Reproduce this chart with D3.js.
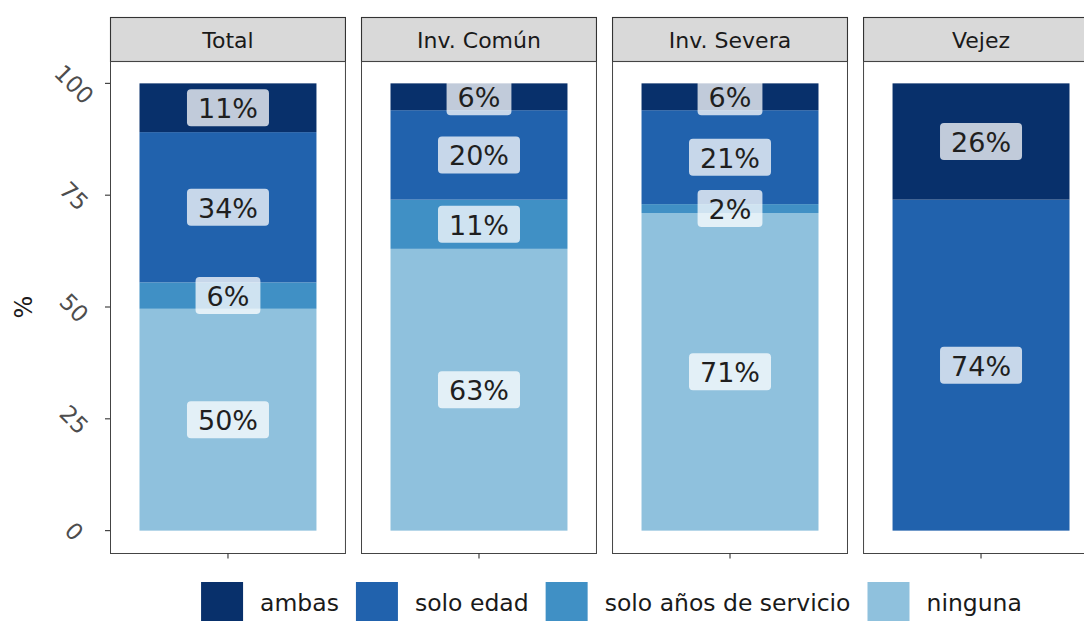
<!DOCTYPE html>
<html>
<head>
<meta charset="utf-8">
<script src="https://cdn.jsdelivr.net/npm/d3@7"></script>
<style>
  html, body { margin: 0; padding: 0; background: #fff; }
  svg { display: block; font-family: "DejaVu Sans", sans-serif; }
</style>
</head>
<body>
<svg id="chart" width="1084" height="621"></svg>
<script>
// ---- data ----
const facets = ["Total", "Inv. Común", "Inv. Severa", "Vejez"];
const stackOrder = ["ninguna", "solo años de servicio", "solo edad", "ambas"]; // bottom -> top
const legendOrder = ["ambas", "solo edad", "solo años de servicio", "ninguna"];
const ninguna       = [49.6, 63, 71, 0];
const soloAnios     = [5.9, 11, 2, 0];
const soloEdad      = [33.6, 20, 21, 74];
const ambas         = [10.9, 6, 6, 26];
const yTicks = [0, 25, 50, 75, 100];
const colors = ["#08306B", "#2162AD", "#4090C5", "#8FC1DD"]; // legend order

// ---- build table ----
const seriesByName = {
  "ninguna": ninguna,
  "solo años de servicio": soloAnios,
  "solo edad": soloEdad,
  "ambas": ambas
};
const rows = facets.map((f, i) => {
  const r = { facet: f };
  stackOrder.forEach(k => r[k] = seriesByName[k][i]);
  return r;
});
const stacked = d3.stack().keys(stackOrder)(rows);

const color = d3.scaleOrdinal().domain(legendOrder).range(colors);

const svg = d3.select("#chart");

// layout
const panelTop = 61, panelBottom = 553, stripTop = 17;
const fx = d3.scaleBand().domain(facets).range([110, 1099]).paddingInner(0.06);
const xb = d3.scaleBand().domain(["x"]).range([0, fx.bandwidth()]).paddingInner(0).paddingOuter(1/6);
const y = d3.scaleLinear().domain([-5, 105]).range([panelBottom, panelTop]);

// panels
const panels = svg.selectAll("g.panel").data(facets).join("g")
  .attr("class", "panel")
  .attr("transform", d => `translate(${fx(d)},0)`);

// strips
panels.append("rect")
  .attr("x", 0.5).attr("y", stripTop + 0.5)
  .attr("width", fx.bandwidth() - 1).attr("height", panelTop - stripTop)
  .attr("fill", "#D9D9D9").attr("stroke", "#333").attr("stroke-width", 1.1);
panels.append("text")
  .attr("x", fx.bandwidth() / 2).attr("y", (stripTop + panelTop) / 2 + 1)
  .attr("text-anchor", "middle").attr("dominant-baseline", "central")
  .attr("font-size", 22).attr("fill", "#1a1a1a")
  .text(d => d);

// bars
stacked.forEach(layer => {
  const key = layer.key;
  layer.forEach((seg, i) => {
    const v = seg[1] - seg[0];
    if (v <= 0) return;
    const g = panels.filter(d => d === facets[i]);
    g.append("rect")
      .attr("x", xb("x")).attr("width", xb.bandwidth())
      .attr("y", y(seg[1])).attr("height", y(seg[0]) - y(seg[1]))
      .attr("fill", color(key));
  });
});

// labels
stacked.forEach(layer => {
  layer.forEach((seg, i) => {
    const v = seg[1] - seg[0];
    if (v <= 0) return;
    const g = panels.filter(d => d === facets[i]);
    const cx = xb("x") + xb.bandwidth() / 2;
    const cy = y((seg[0] + seg[1]) / 2);
    const lg = g.append("g").attr("transform", `translate(${cx},${cy})`);
    const rect = lg.append("rect").attr("fill", "#fff").attr("fill-opacity", 0.75)
      .attr("rx", 4).attr("ry", 4);
    const t = lg.append("text").attr("text-anchor", "middle").attr("dominant-baseline", "central")
      .attr("font-size", 27).attr("fill", "#1f1f1f")
      .attr("y", 1)
      .text(Math.round(v) + "%");
    const w = t.node().getComputedTextLength();
    rect.attr("x", -w / 2 - 11).attr("y", -18.5).attr("width", w + 22).attr("height", 37);
  });
});

// panel borders
panels.append("rect")
  .attr("x", 0.5).attr("y", panelTop + 0.5)
  .attr("width", fx.bandwidth() - 1).attr("height", panelBottom - panelTop)
  .attr("fill", "none").attr("stroke", "#444").attr("stroke-width", 1);

// x ticks
panels.append("line")
  .attr("x1", xb("x") + xb.bandwidth() / 2).attr("x2", xb("x") + xb.bandwidth() / 2)
  .attr("y1", panelBottom + 0.5).attr("y2", panelBottom + 5.5)
  .attr("stroke", "#333").attr("stroke-width", 1.1);

// y axis
const yAxis = svg.append("g");
yTicks.forEach(v => {
  yAxis.append("line")
    .attr("x1", 105).attr("x2", 110).attr("y1", y(v)).attr("y2", y(v))
    .attr("stroke", "#333").attr("stroke-width", 1.1);
  yAxis.append("text")
    .attr("transform", `translate(74,${y(v) + 1}) rotate(45)`)
    .attr("text-anchor", "middle").attr("dominant-baseline", "central")
    .attr("font-size", 23).attr("fill", "#4D4D4D")
    .text(v);
});
svg.append("text")
  .attr("transform", `translate(24,${y(50)}) rotate(-90)`)
  .attr("text-anchor", "middle").attr("dominant-baseline", "central")
  .attr("font-size", 24).attr("fill", "#1a1a1a")
  .text("%");

// legend
const legend = svg.append("g");
const keySize = 42, keyGap = 17, itemGap = 17, legendTop = 582;
const items = [];
legendOrder.forEach(k => {
  const g = legend.append("g");
  g.append("rect").attr("x", 0).attr("y", 0).attr("width", keySize).attr("height", keySize)
    .attr("fill", color(k));
  const t = g.append("text").attr("x", keySize + keyGap).attr("y", keySize / 2)
    .attr("dominant-baseline", "central").attr("font-size", 23.5).attr("fill", "#1a1a1a")
    .text(k);
  const w = keySize + keyGap + t.node().getComputedTextLength();
  items.push({ g, w });
});
const total = d3.sum(items, d => d.w) + itemGap * (items.length - 1);
let start = 611.5 - total / 2;
items.forEach(it => {
  it.g.attr("transform", `translate(${start},${legendTop})`);
  start += it.w + itemGap;
});
</script>
</body>
</html>
